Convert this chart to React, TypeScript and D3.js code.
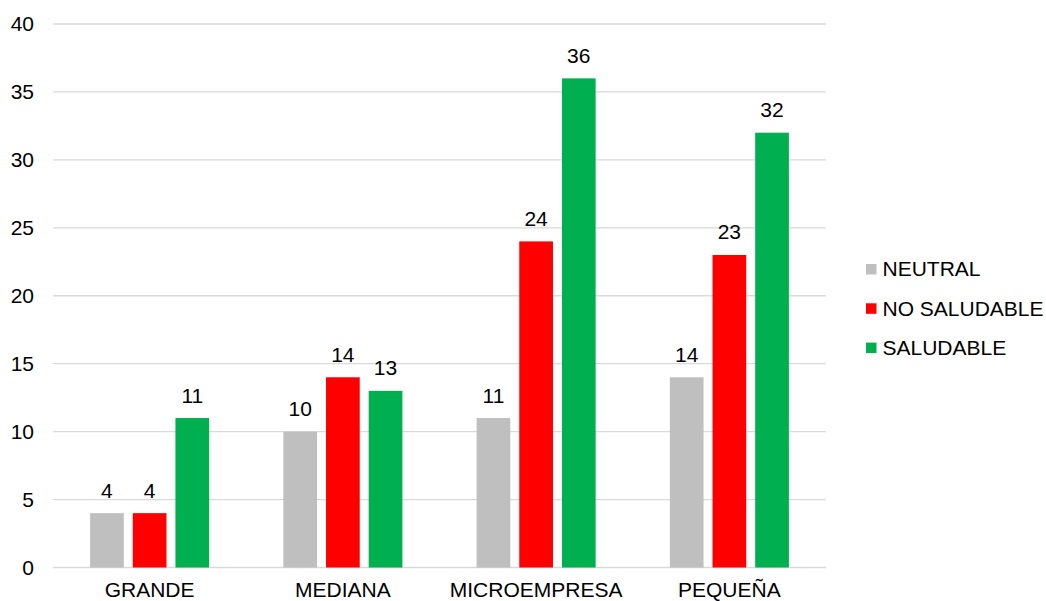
import React from "react";
import * as d3 from "d3";

const categories = ["GRANDE", "MEDIANA", "MICROEMPRESA", "PEQUEÑA"];
const seriesNames = ["NEUTRAL", "NO SALUDABLE", "SALUDABLE"];
const neutral = [4, 10, 11, 14];
const noSaludable = [4, 14, 24, 23];
const saludable = [11, 13, 36, 32];
const yTicks = [0, 5, 10, 15, 20, 25, 30, 35, 40];
const colors = ["#bfbfbf", "#ff0000", "#00b050"];

export default function App() {
  const W = 1046, H = 601;
  const left = 53, right = 826, top = 24, bottom = 567.5;
  const x = d3.scaleBand<string>().domain(categories).range([left, right]).padding(0);
  const gw = x.bandwidth();
  const xs = d3.scaleBand<string>().domain(seriesNames).range([gw * 0.192, gw * 0.808]).paddingInner(0.21).paddingOuter(0);
  const y = d3.scaleLinear().domain([0, 40]).range([bottom, top]);
  const data = [neutral, noSaludable, saludable];
  const font = "'Liberation Sans', Arial, sans-serif";
  const fs = 21;
  return (
    <svg width={W} height={H} style={{ position: "absolute", left: 0, top: 0 }} fontFamily={font}>
      <rect width={W} height={H} fill="#fff" />
      {yTicks.map((t) => (
        <g key={t}>
          <line x1={left} x2={right} y1={y(t)} y2={y(t)} stroke="#d9d9d9" strokeWidth={1.3} />
          <text x={34} y={y(t)} dy="0.35em" textAnchor="end" fontSize={fs} fill="#000">{t}</text>
        </g>
      ))}
      {categories.map((c, ci) => (
        <g key={c}>
          {seriesNames.map((s, si) => {
            const v = data[si][ci];
            const bx = (x(c) as number) + (xs(s) as number);
            return (
              <g key={s}>
                <rect x={bx} y={y(v)} width={xs.bandwidth()} height={y(0) - y(v)} fill={colors[si]} />
                <text x={bx + xs.bandwidth() / 2} y={y(v) - 15.5} textAnchor="middle" fontSize={fs} fill="#000">{v}</text>
              </g>
            );
          })}
          <text x={(x(c) as number) + gw / 2} y={597} textAnchor="middle" fontSize={fs} fill="#000">{c}</text>
        </g>
      ))}
      {seriesNames.map((s, i) => (
        <g key={s} transform={`translate(866, ${269 + i * 39.3})`}>
          <rect x={0} y={-5} width={10.5} height={10.5} fill={colors[i]} />
          <text x={16.5} y={0} dy="0.35em" fontSize={fs} fill="#000">{s}</text>
        </g>
      ))}
    </svg>
  );
}
